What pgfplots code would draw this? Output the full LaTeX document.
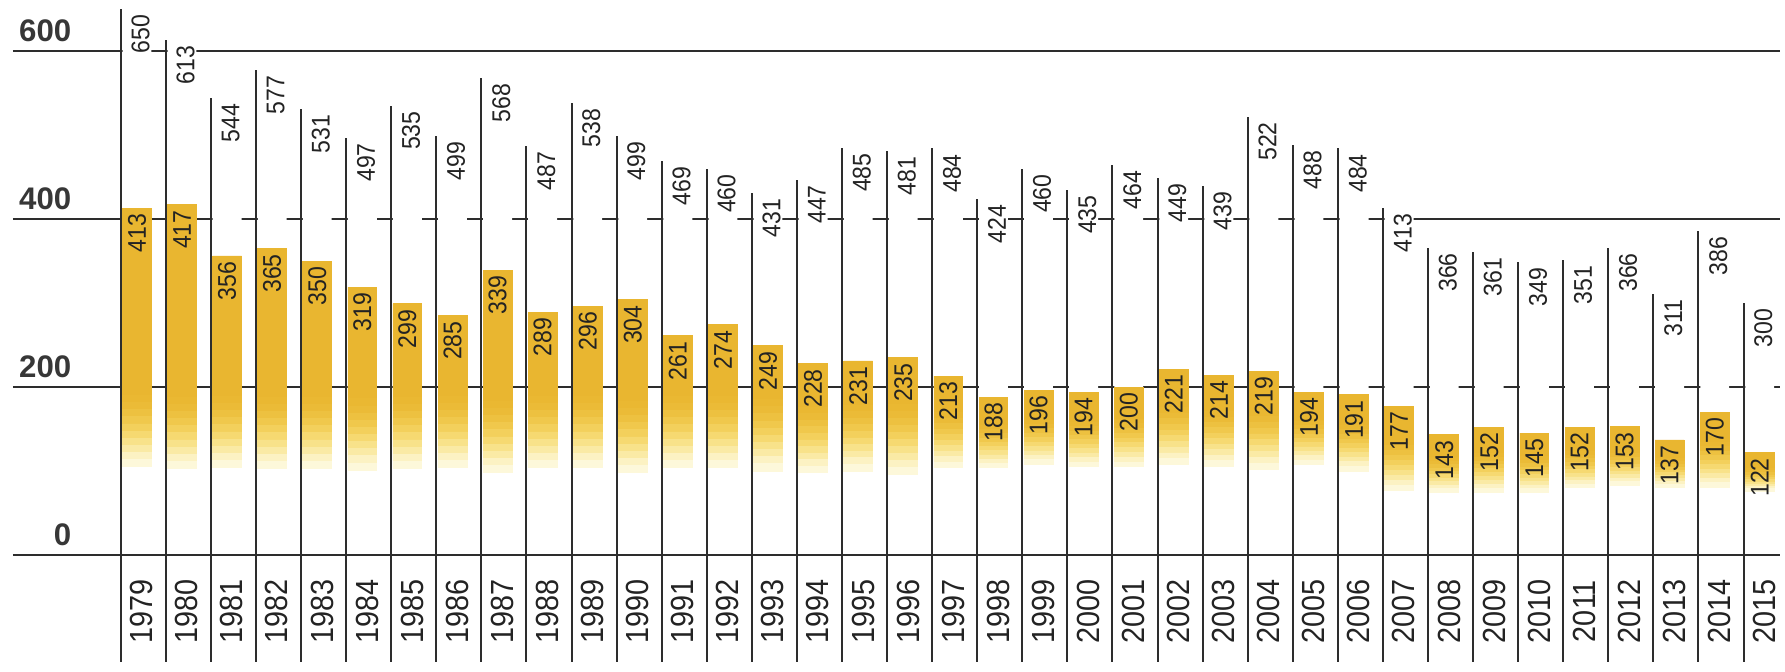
\documentclass[border=0pt]{standalone}
\usepackage{pgfplots}
\pgfplotsset{compat=1.18}
\usepackage{pgfplotstable}
\usepackage{fontspec}
\setmainfont{Liberation Sans}
\newfontfamily\narrow[FakeStretch=0.9]{Liberation Sans}

\definecolor{ink}{RGB}{45,45,45}
\definecolor{txt}{RGB}{35,35,35}
\definecolor{axtxt}{RGB}{55,55,55}
\definecolor{gold}{RGB}{233,182,48}
% fade of the lower part of each bar, bottom (s1) to top (s10)
\definecolor{s1}{RGB}{253,248,218}
\definecolor{s2}{RGB}{252,242,195}
\definecolor{s3}{RGB}{250,234,165}
\definecolor{s4}{RGB}{248,226,138}
\definecolor{s5}{RGB}{246,217,113}
\definecolor{s6}{RGB}{243,208,92}
\definecolor{s7}{RGB}{240,200,76}
\definecolor{s8}{RGB}{237,193,64}
\definecolor{s9}{RGB}{235,187,55}
\definecolor{s10}{RGB}{234,184,50}

% i = column, total = upper value (line), bar = lower value (bar), base = where the bar fades out
\pgfplotstableread{
i year total bar base
0 1979 650 413 105
1 1980 613 417 103
2 1981 544 356 104
3 1982 577 365 103
4 1983 531 350 103
5 1984 497 319 101
6 1985 535 299 103
7 1986 499 285 104
8 1987 568 339 98
9 1988 487 289 104
10 1989 538 296 104
11 1990 499 304 98
12 1991 469 261 104
13 1992 460 274 104
14 1993 431 249 100
15 1994 447 228 98
16 1995 485 231 100
17 1996 481 235 96
18 1997 484 213 104
19 1998 424 188 104
20 1999 460 196 108
21 2000 435 194 105
22 2001 464 200 105
23 2002 449 221 108
24 2003 439 214 106
25 2004 522 219 102
26 2005 488 194 108
27 2006 484 191 100
28 2007 413 177 77
29 2008 366 143 75
30 2009 361 152 75
31 2010 349 145 75
32 2011 351 152 80
33 2012 366 153 83
34 2013 311 137 81
35 2014 386 170 81
36 2015 300 122 76
}\data

\pgfplotstableread{
v
600
400
200
0
}\ticks

\pgfplotsset{
  layer/.style={
    width=446.25pt, height=167.75pt, scale only axis,
    xmin=-2.678, xmax=36.92, ymin=-138.1, ymax=660.7,
    hide axis, clip=false, at={(0,0)}, anchor=south west,
  },
  rule/.style={ink, line width=0.5pt, mark=none},
}

% one tenth of the faded part of every bar
\newcommand\slice[1]{%
  \addplot[draw=#1, line width=0.2pt, fill=#1]
    table[x expr=\thisrow{i}+0.36, y expr={min(85,0.6*(\thisrow{bar}-\thisrow{base}))/10}] {\data};}

\begin{document}
\begin{tikzpicture}
% grid lines and white masks behind the bars
\begin{axis}[layer, name=ax]
  \addplot[rule] coordinates {(-2.39,600) (36.8,600)};
  \addplot[rule] coordinates {(-2.39,400) (36.8,400)};
  \addplot[rule] coordinates {(-2.39,200) (36.8,200)};
  \addplot[ybar, bar width=0.64, bar shift=0pt, fill=white, draw=none]
    table[x expr=\thisrow{i}+0.36, y=total] {\data};
\end{axis}

% fading bars
\begin{axis}[layer, ybar stacked, bar width=0.64]
  \addplot[draw=none, fill=none]
    table[x expr=\thisrow{i}+0.36, y=base] {\data};
  \slice{s1}\slice{s2}\slice{s3}\slice{s4}\slice{s5}
  \slice{s6}\slice{s7}\slice{s8}\slice{s9}\slice{s10}
  \addplot[draw=gold, line width=0.2pt, fill=gold]
    table[x expr=\thisrow{i}+0.36, y expr={\thisrow{bar}-\thisrow{base}-min(85,0.6*(\thisrow{bar}-\thisrow{base}))}] {\data};
\end{axis}

% lines and labels
\begin{axis}[layer]
  \addplot[rule, ycomb] table[x=i, y=total] {\data};
  \addplot[rule, ycomb] table[x=i, y expr=-127] {\data};
  \addplot[rule] coordinates {(-2.39,0) (36.8,0)};

  \addplot[draw=none, mark=none, nodes near coords, point meta=explicit symbolic,
    nodes near coords style={yshift=-1.25pt, rotate=90, anchor=east, inner sep=0pt,
      font=\narrow\fontsize{6.4}{7}\selectfont, text=txt}]
    table[x expr=\thisrow{i}+0.44, y=total, meta=total] {\data};

  \addplot[draw=none, mark=none, nodes near coords, point meta=explicit symbolic,
    nodes near coords style={yshift=-1.25pt, rotate=90, anchor=east, inner sep=0pt,
      font=\narrow\fontsize{6.4}{7}\selectfont, text=txt}]
    table[x expr=\thisrow{i}+0.36, y=bar, meta=bar] {\data};

  \addplot[draw=none, mark=none, nodes near coords, point meta=explicit symbolic,
    nodes near coords style={rotate=90, anchor=center, inner sep=0pt,
      font=\narrow\fontsize{8}{9}\selectfont, text=txt}]
    table[x expr=\thisrow{i}+0.466, y expr=-66.7, meta=year] {\data};

  \addplot[draw=none, mark=none, nodes near coords, point meta=explicit symbolic,
    nodes near coords style={yshift=2pt, anchor=south east, inner sep=0pt,
      font=\bfseries\fontsize{7.8}{9}\selectfont, text=axtxt}]
    table[x expr=-1.08, y=v, meta=v] {\ticks};
\end{axis}
\pgfresetboundingbox
\path (ax.south west) rectangle (ax.north east);
\end{tikzpicture}
\end{document}
